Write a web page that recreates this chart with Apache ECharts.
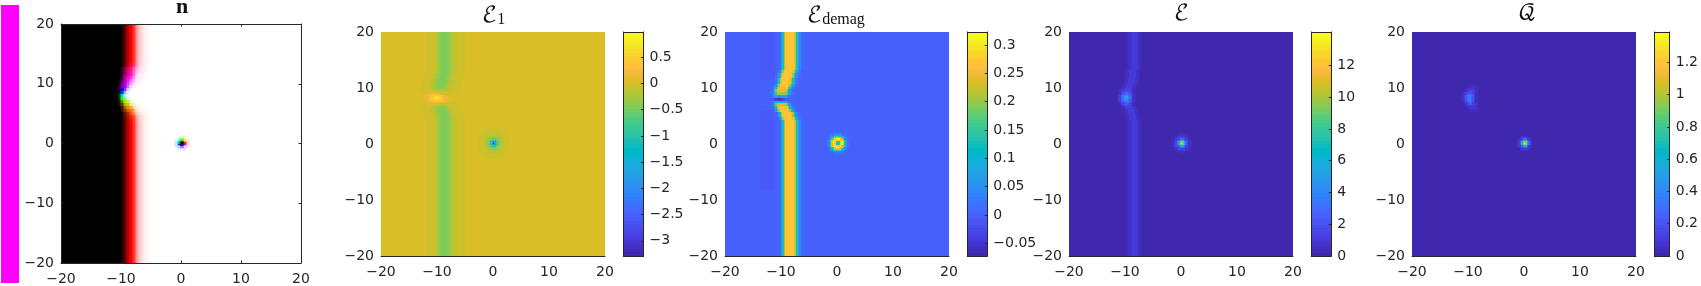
<!DOCTYPE html>
<html><head><meta charset="utf-8">
<style>html,body{margin:0;padding:0;background:#fff}#c{width:1701px;height:286px}</style>
<script src="https://cdn.jsdelivr.net/npm/echarts@6/dist/echarts.min.js"></script>
</head><body><div id="c"></div>
<script>
// ---------- values ----------
const xTicks = [-20,-10,0,10,20];
const e1Ticks = [-3,-2.5,-2,-1.5,-1,-0.5,0,0.5];
const demagTicks = [-0.05,0,0.05,0.1,0.15,0.2,0.25,0.3];
const eTicks = [0,2,4,6,8,10,12];
const qTicks = [0,0.2,0.4,0.6,0.8,1,1.2];
const e1Range = [-3.29,0.98], demagRange = [-0.0723,0.323], eRange = [0,14.1], qRange = [0,1.388];

// wall course: row heights and wall centre in each row
const wallY = [20,15,14,13.5,13,12.5,12,11.5,11,10.5,10,9.5,9,8.5,8,7.5,7,6.5,6,5.5,5,4.5,4,3.5,3,-20];
const wallX = [-8.55,-8.55,-8.6,-8.65,-8.7,-8.8,-8.9,-9,-9.15,-9.3,-9.5,-9.7,-9.9,-10,-10,-9.95,-9.7,-9.4,-9.15,-8.95,-8.8,-8.7,-8.62,-8.58,-8.55,-8.55];
const nWallX = [-8.3,-8.3,-8.35,-8.4,-8.45,-8.5,-8.6,-8.7,-8.85,-9,-9.2,-9.45,-9.65,-9.8,-9.8,-9.7,-9.4,-9.1,-8.85,-8.65,-8.5,-8.4,-8.35,-8.3,-8.3,-8.3];
const demagWallX = [-8.5,-8.5,-8.6,-8.7,-8.85,-9,-9.15,-9.3,-9.45,-9.65,-9.8,-10,-10.2,-10.3,-10.4,-10.4,-10.1,-9.85,-9.5,-9.2,-9,-8.85,-8.7,-8.6,-8.55,-8.5];
const e1Amp = [1,1,1,1,1,1,1,1,1,1,1,.85,.5,.1,.05,.25,.7,1,1,1,1,1,1,1,1,1];
const demagAmp = [1,1,1,1,1,1,1,1,1,.98,.95,.9,.75,.35,0,.35,.85,.95,1,1,1,1,1,1,1,1];
const eAmp = [1,1,1,1,1,1,1,1,1,1,1,1,.9,.8,.7,.8,.9,1,1,1,1,1,1,1,1,1];
const qAmp = wallY.map(()=>0);

// wall cross-sections, sampled every 0.25 units, starting at the given offset from the centre
const e1Wall = [-.06,-.06,-.06,-.07,-.08,-.1,-.14,-.2,-.27,-.35,-.42,-.47,-.5,-.5,-.5,-.47,-.42,-.35,-.27,-.21,-.16,-.13,-.1,-.08,-.07,-.06,-.06,-.06];
const e1WallStart = -3.25;
const demagWall = [.005,.02,.06,.13,.21,.26,.27,.272,.272,.272,.27,.25,.2,.13,.07,.035,.015,.007,.003];
const demagWallStart = -1.75;
const eWall = [.15,.3,.5,.75,.9,.95,.9,.75,.5,.3,.15,.06];
const eWallStart = -1.25;

// ring values every 0.25 units around the two defects
const e1Dot = [-3.2,-1.9,-1,-.6,-.38,-.25,-.18,-.13,-.1,-.08,-.06,-.06];
const demagDot = [.07,.14,.27,.32,.24,.14,.065,.025,.008];
const eDot = [13.4,9,5,2.5,1.2,.6,.3,.15];
const qDot = [1.35,.95,.55,.25,.1,.04,.015];
const e1Spot = [.75,.65,.5,.35,.25,.17,.1,.06];
const demagSpot = [-.07,-.06,-.045,-.03,-.018,-.01,-.005,-.002];
const eSpot = [4.8,4.3,3.4,2.4,1.6,1,.6,.35,.15];
const qSpot = [.37,.34,.27,.19,.12,.07,.04,.02,.01];

// n panel: shade across the wall (-1 black, 0 full hue, 1 white)
const nShade = [-1,-.9,-.78,-.62,-.45,-.3,-.12,0,.08,.22,.4,.6,.72,.8,.86,.9,.93,.95,.97,.98,.99,1];
const nShadeStart = -1.75;
const nSquash = [1,1,1,1,1,1,1,.95,.9,.85,.8,.7,.55,.45,.45,.55,.7,.8,.85,.9,.95,1,1,1,1,1];
const nHue = ['#ff0000','#ff0000','#ff0000','#ff0020','#ff0040','#ff0070','#ff0090','#ff00b0','#ff00d0','#f000e8','#e000f0','#a000ff','#4000ff','#0040ff','#00ffb0','#60ff20','#a0e800','#d8c000','#f09000','#ff6000','#ff4000','#ff2000','#ff1000','#ff0000','#ff0000','#ff0000'];
const nDotShade = [-1,-.6,0,.5,.8,.93,.98];
const nDotHue = ['#ff2000','#ffb000','#40ff00','#00ff80','#00a0ff','#0030ff','#4000ff','#e000e0'];

const parula = [[.2422,.1504,.6603],[.2504,.165,.7076],[.2578,.1818,.7511],[.2647,.1978,.7952],[.2706,.2147,.8364],[.2751,.2342,.871],[.2783,.2559,.8991],[.2803,.2782,.9221],[.2813,.3006,.9414],[.281,.3228,.9579],[.2795,.3447,.9717],[.276,.3667,.9829],[.2699,.3892,.9906],[.2602,.4123,.9952],[.244,.4358,.9988],[.2206,.4603,.9973],[.1963,.4847,.9892],[.1834,.5074,.9798],[.1786,.5289,.9682],[.1764,.5499,.952],[.1687,.5703,.9359],[.154,.5902,.9218],[.146,.6091,.9079],[.138,.6276,.8973],[.1248,.6459,.8883],[.1113,.6635,.8763],[.0952,.6798,.8598],[.0689,.6948,.8394],[.0297,.7082,.8163],[.0036,.7203,.7917],[.0067,.7312,.766],[.0433,.7411,.7394],[.0964,.75,.712],[.1408,.7584,.6842],[.1717,.767,.6554],[.1938,.7758,.6251],[.2161,.7843,.5923],[.247,.7918,.5567],[.2906,.7973,.5188],[.3406,.8008,.4789],[.3909,.8029,.4354],[.4456,.8024,.3909],[.5044,.7993,.348],[.5616,.7942,.3045],[.6174,.7876,.2612],[.672,.7793,.2227],[.7242,.7698,.191],[.7738,.7598,.1646],[.8203,.7498,.1535],[.8634,.7406,.1596],[.9035,.733,.1774],[.9393,.7288,.21],[.9728,.7298,.2394],[.9956,.7434,.2371],[.997,.7659,.2199],[.9952,.7861,.199],[.9892,.8138,.1816],[.9786,.8427,.1687],[.9676,.8715,.1513],[.961,.899,.1537],[.9597,.9265,.1319],[.9628,.9532,.1103],[.9691,.9777,.0837],[.9769,.9839,.0805]];
const parulaCss = parula.map(c=>`rgb(${c.map(v=>Math.round(v*255)).join(',')})`);

// ---------- lookups that assemble the cell tables ----------
const CELL = .25, N = 160;
function rowOf(y){let b=0,d=1e9;wallY.forEach((k,i)=>{const e=Math.abs(k-y);if(e<d){d=e;b=i}});return b}
function look(t,start,o){const i=Math.round((o-start)/CELL);return (i>=0&&i<t.length)?t[i]:null}
function rings(t,r){const i=Math.round(r/CELL);return i<t.length?t[i]:0}

function field(cfg){
  const [lo,hi]=cfg.range, out=[], levels=64;
  for(let j=0;j<N;j++){
    const y0=-20+j*CELL, yc=y0+CELL/2, r=rowOf(yc);
    let run=null;
    for(let i=0;i<N;i++){
      const x0=-20+i*CELL, xc=x0+CELL/2;
      let v=cfg.bg;
      const w=look(cfg.wall,cfg.wallStart,xc-cfg.wallX[r]);
      if(w!==null) v+=w*cfg.amp[r];
      if(cfg.lobes&&xc>cfg.lobeX[0]&&xc<cfg.lobeX[1]&&cfg.lobes.some(b=>yc<b[0]&&yc>b[1])) v+=cfg.lobeValue;
      const s=cfg.spot;
      const cx=s.x+(s.bend?cfg.wallX[r]-cfg.wallX[rowOf(s.y)]:0);
      v+=rings(s.rings,Math.hypot((xc-cx)/s.sx,(yc-s.y)/s.sy));
      v+=rings(cfg.dot,Math.hypot(xc-cfg.dotAt[0],yc-cfg.dotAt[1]));
      const b=Math.max(0,Math.min(levels-1,Math.floor((v-lo)/(hi-lo)*levels)));
      if(run&&run.b===b) run.x1=x0+CELL;
      else{ if(run) out.push([run.x0,run.x1,y0,y0+CELL,lo+(run.b+.5)/levels*(hi-lo)]); run={b,x0,x1:x0+CELL}; }
    }
    out.push([run.x0,run.x1,y0,y0+CELL,lo+(run.b+.5)/levels*(hi-lo)]);
  }
  return out;
}
function hex(c){return [1,3,5].map(k=>parseInt(c.substr(k,2),16))}
function shade(h,s){const c=hex(h).map(v=>Math.round(s<0?v*(1+s):v+(255-v)*s));return `rgb(${c.join(',')})`}
const nColors=[];
function nIndex(c){let k=nColors.indexOf(c);if(k<0){nColors.push(c);k=nColors.length-1}return k}
function nField(){
  const out=[];
  for(let j=0;j<N;j++){
    const y0=-20+j*CELL,yc=y0+CELL/2,r=rowOf(yc);
    let run=null;
    for(let i=0;i<N;i++){
      const x0=-20+i*CELL,xc=x0+CELL/2;
      const o=(xc-nWallX[r])/nSquash[r];
      let s=look(nShade,nShadeStart,o);
      if(s===null) s=o<0?-1:1;
      let hue=nHue[r];
      const dx=xc-.125,dy=yc-.125,rr=Math.hypot(dx,dy);
      if(rr<1.6){
        const ds=Math.round(rr/CELL);
        s=ds<nDotShade.length?nDotShade[ds]:1;
        const a=(Math.atan2(dy,dx)+2*Math.PI)%(2*Math.PI);
        hue=nDotHue[Math.round(a/(Math.PI/4))%8];
      }
      const c=nIndex(shade(hue,s));
      if(run&&run.c===c) run.x1=x0+CELL;
      else{ if(run) out.push([run.x0,run.x1,y0,y0+CELL,run.c]); run={c,x0,x1:x0+CELL}; }
    }
    out.push([run.x0,run.x1,y0,y0+CELL,run.c]);
  }
  return out;
}
function barCells(range){const [lo,hi]=range,o=[];for(let i=0;i<64;i++){const a=lo+i/64*(hi-lo),b=lo+(i+1)/64*(hi-lo);o.push([0,1,a,b,(a+b)/2])}return o}

const panels=[
 {key:'e1',left:381,bar:623.5,range:e1Range,ticks:e1Ticks,data:field({range:e1Range,bg:.02,wall:e1Wall,wallStart:e1WallStart,wallX,amp:e1Amp,spot:{x:-10.05,y:8.25,sx:1.25,sy:1.15,rings:e1Spot},dot:e1Dot,dotAt:[.125,.125]})},
 {key:'demag',left:725,bar:967.3,range:demagRange,ticks:demagTicks,data:field({range:demagRange,bg:0,wall:demagWall,wallStart:demagWallStart,wallX:demagWallX,amp:demagAmp,lobes:[[20,11.5],[6,-8]],lobeX:[-13.75,-11],lobeValue:-.008,spot:{x:-10.3,y:8.1,sx:1,sy:.5,rings:demagSpot},dot:demagDot,dotAt:[.125,.125]})},
 {key:'e',left:1069,bar:1311.3,range:eRange,ticks:eTicks,data:field({range:eRange,bg:.15,wall:eWall,wallStart:eWallStart,wallX:wallX.map(v=>v+.2),amp:eAmp,spot:{x:-9.8,y:8.2,sx:.85,sy:.85,rings:eSpot},dot:eDot,dotAt:[.125,.125]})},
 {key:'q',left:1412,bar:1654.3,range:qRange,ticks:qTicks,data:field({range:qRange,bg:.005,wall:eWall,wallStart:eWallStart,wallX,amp:qAmp,spot:{x:-9.77,y:8.2,sx:.8,sy:1.4,rings:qSpot,bend:true},dot:qDot,dotAt:[.125,.125]})}
];
const nData=nField();

// ---------- chart ----------
const INK='#262626';
const minus=v=>String(v).replace('-','\u2212');
const labelStyle={color:INK,fontFamily:'DejaVu Sans',fontSize:14};
function cell(p,a){
  const A=a.coord([a.value(0),a.value(2)]),B=a.coord([a.value(1),a.value(3)]);
  const x=Math.round(A[0]),x2=Math.round(B[0]),y=Math.round(B[1]),y2=Math.round(A[1]);
  const fill=p.seriesIndex===0?nColors[a.value(4)]:a.visual('color');
  return {type:'rect',shape:{x,y,width:x2-x,height:y2-y},style:{fill},silent:true};
}
const grids=[],xA=[],yA=[],series=[],vms=[];
function custom(name,gi,xi,yi,data){series.push({type:'custom',id:name,name,coordinateSystem:'cartesian2d',xAxisIndex:xi,yAxisIndex:yi,data,encode:{x:[0,1],y:[2,3]},renderItem:cell,animation:false,silent:true,progressive:0,progressiveThreshold:1e9});return series.length-1}
const tick={show:true,inside:true,length:2.5,lineStyle:{color:INK,width:1}};
const line={show:true,onZero:false,lineStyle:{color:INK,width:1}};
function mainAxes(gi,frame){
  const xi=xA.length,yi=yA.length;
  xA.push({gridIndex:gi,type:'value',min:-20,max:20,interval:10,position:'bottom',splitLine:{show:false},axisLine:line,axisTick:frame?tick:{show:false},axisLabel:{...labelStyle,margin:9,formatter:minus},z:10});
  yA.push({gridIndex:gi,type:'value',min:-20,max:20,interval:10,position:'left',splitLine:{show:false},axisLine:frame?line:{show:false},axisTick:frame?tick:{show:false},axisLabel:{...labelStyle,margin:7,formatter:minus},z:10});
  if(frame){
    xA.push({gridIndex:gi,type:'value',min:-20,max:20,interval:10,position:'top',splitLine:{show:false},axisLine:line,axisTick:tick,axisLabel:{show:false},z:10});
    yA.push({gridIndex:gi,type:'value',min:-20,max:20,interval:10,position:'right',splitLine:{show:false},axisLine:line,axisTick:tick,axisLabel:{show:false},z:10});
  }
  return [xi,yi];
}
// n panel
grids.push({left:61,top:24,width:240,height:239});
{const [xi,yi]=mainAxes(0,true);custom('n',0,xi,yi,nData);}
panels.forEach(p=>{
  const gi=grids.length;
  grids.push({left:p.left,top:32,width:224,height:224});
  const [xi,yi]=mainAxes(gi,false);
  const s1=custom(p.key+'-field',gi,xi,yi,p.data);
  const gb=grids.length;
  grids.push({left:p.bar,top:32,width:20,height:224});
  const bx=xA.length,by=yA.length;
  xA.push({gridIndex:gb,type:'value',min:0,max:1,position:'bottom',splitLine:{show:false},axisLine:line,axisTick:{show:false},axisLabel:{show:false},z:10});
  xA.push({gridIndex:gb,type:'value',min:0,max:1,position:'top',splitLine:{show:false},axisLine:line,axisTick:{show:false},axisLabel:{show:false},z:10});
  yA.push({gridIndex:gb,type:'value',min:p.range[0],max:p.range[1],position:'right',splitLine:{show:false},axisLine:line,axisTick:{...tick,customValues:p.ticks},axisLabel:{...labelStyle,margin:6,formatter:minus,customValues:p.ticks},z:10});
  yA.push({gridIndex:gb,type:'value',min:p.range[0],max:p.range[1],position:'left',splitLine:{show:false},axisLine:line,axisTick:{show:false},axisLabel:{show:false},z:10});
  const s2=custom(p.key+'-bar',gb,bx,by,barCells(p.range));
  vms.push({type:'continuous',show:false,seriesIndex:[s1,s2],dimension:4,min:p.range[0],max:p.range[1],inRange:{color:parulaCss}});
});
const serif='"DejaVu Math TeX Gyre","DejaVu Serif","Liberation Serif",serif';
const rich={e:{fontFamily:serif,fontSize:22,fontWeight:'normal',color:'#111'},s:{fontFamily:'Liberation Serif',fontSize:16,fontWeight:'normal',color:'#111',verticalAlign:'bottom',padding:[9,0,0,0]}};
const titles=[
 {left:176,top:-4,padding:0,text:'n',textStyle:{fontFamily:'Liberation Serif',fontWeight:'bold',fontSize:22,color:'#111'}},
 {left:482,top:3,padding:0,text:'{e|\u2130}{s|1}',textStyle:{rich}},
 {left:807,top:3,padding:0,text:'{e|\u2130}{s|demag}',textStyle:{rich}},
 {left:1174,top:3,padding:0,text:'\u2130',textStyle:{fontFamily:serif,fontSize:22,fontWeight:'normal',color:'#111'}},
 {left:1518,top:3,padding:0,text:'\ud835\udcac',textStyle:{fontFamily:serif,fontSize:22,fontWeight:'normal',color:'#111'}}
];
const chart=echarts.init(document.getElementById('c'),null,{renderer:'canvas'});
chart.setOption({animation:false,progressive:0,progressiveThreshold:1e9,backgroundColor:'#fff',title:titles,grid:grids,xAxis:xA,yAxis:yA,series,visualMap:vms,tooltip:{show:false},
 graphic:[{type:'rect',shape:{x:1,y:5,width:18,height:278},style:{fill:'#ff00ff'},silent:true}]});
</script></body></html>
